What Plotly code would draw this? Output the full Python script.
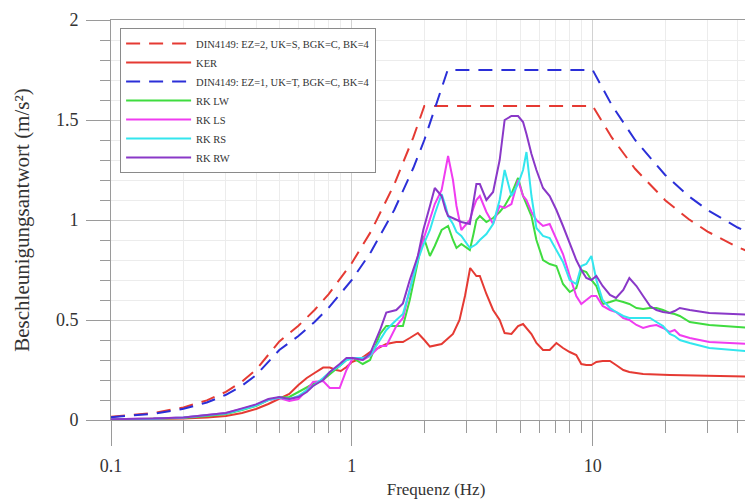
import plotly.graph_objects as go

# ---------------- data ----------------
din_ez2_f = [0.1, 0.15, 0.2, 0.25, 0.3, 0.35, 0.4, 0.5, 0.6, 0.7, 0.8, 1.0, 1.2, 1.5, 1.8, 2.0,
             10, 12, 15, 20, 25, 30, 40, 50]
din_ez2_a = [0.016, 0.035, 0.063, 0.098, 0.141, 0.192, 0.251, 0.393, 0.471, 0.55, 0.628, 0.785,
             0.942, 1.178, 1.413, 1.57, 1.57, 1.413, 1.256, 1.099, 1.005, 0.942, 0.864, 0.817]

din_ez1_f = [0.1, 0.15, 0.2, 0.25, 0.3, 0.35, 0.4, 0.5, 0.6, 0.7, 0.8, 1.0, 1.2, 1.5, 1.8, 2.0,
             2.5, 10, 12, 15, 20, 25, 30, 40, 50]
din_ez1_a = [0.014, 0.0315, 0.056, 0.0875, 0.126, 0.1715, 0.224, 0.35, 0.42, 0.49, 0.56, 0.7,
             0.84, 1.05, 1.26, 1.4, 1.75, 1.75, 1.575, 1.4, 1.225, 1.12, 1.05, 0.9625, 0.91]

ker_f = [0.1, 0.15, 0.2, 0.25, 0.3, 0.35, 0.4, 0.45, 0.5, 0.55, 0.6, 0.65, 0.7, 0.76, 0.81, 0.86,
         0.9, 0.95, 1.0, 1.1, 1.19, 1.31, 1.39, 1.53, 1.63, 1.74, 1.88, 2.0, 2.11, 2.36, 2.63,
         2.8, 2.95, 3.1, 3.29, 3.4, 3.62, 3.86, 4.11, 4.31, 4.6, 4.9, 5.14, 5.57, 5.84, 6.22,
         6.63, 7.07, 7.53, 8.03, 8.55, 8.97, 9.41, 9.88, 10.36, 11.0, 11.8, 12.5, 13.4, 14.2,
         16.2, 20.9, 30.5, 46.1, 50]
ker_a = [0.003, 0.004, 0.007, 0.012, 0.02, 0.035, 0.055, 0.08, 0.105, 0.13, 0.175, 0.21, 0.235,
         0.262, 0.262, 0.25, 0.245, 0.265, 0.29, 0.31, 0.34, 0.365, 0.38, 0.39, 0.39, 0.41, 0.435,
         0.4, 0.367, 0.38, 0.43, 0.5, 0.62, 0.76, 0.72, 0.72, 0.63, 0.55, 0.5, 0.435, 0.43, 0.47,
         0.48, 0.43, 0.385, 0.35, 0.35, 0.385, 0.36, 0.34, 0.325, 0.28, 0.275, 0.275, 0.29, 0.295,
         0.295, 0.275, 0.25, 0.24, 0.23, 0.225, 0.22, 0.217, 0.216]

rk_f = [0.1, 0.15, 0.2, 0.25, 0.3, 0.35, 0.4, 0.45, 0.5, 0.55, 0.6, 0.65, 0.69, 0.76, 0.81, 0.89,
        0.95, 1.01, 1.11, 1.19, 1.31, 1.39, 1.53, 1.63, 1.74, 1.88, 1.98, 2.11, 2.21, 2.36, 2.45,
        2.51, 2.63, 2.72, 2.85, 3.09, 3.2, 3.29, 3.4, 3.62, 3.86, 4.11, 4.31, 4.6, 4.9, 5.14,
        5.31, 5.57, 5.84, 6.22, 6.63, 7.07, 7.53, 8.03, 8.55, 8.97, 9.41, 9.88, 10.36, 11.0, 11.8,
        12.5, 13.4, 14.2, 15.2, 16.2, 17.3, 18.4, 19.6, 20.9, 21.9, 23.0, 25.3, 30.5, 46.1, 50]

rk_lw = [0.003, 0.005, 0.01, 0.02, 0.03, 0.05, 0.07, 0.1, 0.112, 0.115, 0.14, 0.165, 0.18, 0.2,
         0.23, 0.27, 0.3, 0.31, 0.28, 0.3, 0.43, 0.47, 0.47, 0.47, 0.6, 0.8, 0.92, 0.82, 0.87,
         0.95, 0.96, 0.97, 0.9, 0.86, 0.88, 0.85, 0.93, 1.0, 1.02, 0.99, 1.01, 1.04, 1.07, 1.13,
         1.21, 1.12, 1.08, 1.02, 0.9, 0.8, 0.78, 0.77, 0.68, 0.64, 0.66, 0.75, 0.74, 0.7, 0.67,
         0.58, 0.59, 0.6, 0.59, 0.58, 0.56, 0.555, 0.56, 0.56, 0.55, 0.535, 0.53, 0.52, 0.49,
         0.475, 0.46, 0.458]

rk_ls = [0.004, 0.007, 0.013, 0.025, 0.035, 0.055, 0.075, 0.1, 0.11, 0.095, 0.105, 0.15, 0.19,
         0.195, 0.16, 0.16, 0.25, 0.31, 0.3, 0.32, 0.37, 0.37, 0.47, 0.51, 0.65, 0.82, 0.9, 1.0,
         1.08, 1.15, 1.25, 1.32, 1.2, 1.07, 0.95, 1.0, 1.06, 1.1, 1.12, 1.04, 0.98, 1.07, 1.06,
         1.08, 1.2, 1.12, 1.1, 1.04, 1.0, 0.97, 0.98, 0.9, 0.83, 0.72, 0.62, 0.58, 0.6, 0.62,
         0.62, 0.57, 0.55, 0.54, 0.51, 0.5, 0.475, 0.46, 0.47, 0.475, 0.46, 0.44, 0.45, 0.425,
         0.41, 0.39, 0.38, 0.378]

rk_rs = [0.004, 0.006, 0.012, 0.022, 0.032, 0.052, 0.072, 0.1, 0.112, 0.105, 0.12, 0.15, 0.17,
         0.21, 0.24, 0.27, 0.3, 0.31, 0.31, 0.32, 0.4, 0.45, 0.5, 0.53, 0.65, 0.8, 0.875, 0.95,
         1.03, 1.13, 1.07, 1.02, 0.98, 0.94, 0.92, 0.86, 0.87, 0.88, 0.9, 0.93, 0.98, 1.1, 1.25,
         1.12, 1.18, 1.25, 1.34, 1.12, 0.96, 0.92, 0.91, 0.85, 0.79, 0.7, 0.68, 0.77, 0.78, 0.82,
         0.7, 0.6, 0.56, 0.54, 0.52, 0.51, 0.51, 0.51, 0.51, 0.49, 0.47, 0.43, 0.42, 0.4, 0.385,
         0.36, 0.34, 0.338]

rk_rw = [0.004, 0.007, 0.013, 0.025, 0.035, 0.058, 0.078, 0.105, 0.115, 0.105, 0.115, 0.14, 0.17,
         0.2, 0.24, 0.28, 0.31, 0.31, 0.3, 0.33, 0.45, 0.537, 0.55, 0.583, 0.7, 0.82, 0.95, 1.07,
         1.16, 1.12, 1.05, 1.02, 1.01, 1.0, 0.99, 0.98, 1.1, 1.18, 1.18, 1.1, 1.14, 1.3, 1.5,
         1.52, 1.52, 1.49, 1.43, 1.33, 1.25, 1.16, 1.12, 1.05, 0.97, 0.88, 0.8, 0.75, 0.71, 0.7,
         0.72, 0.67, 0.625, 0.61, 0.65, 0.71, 0.67, 0.62, 0.57, 0.55, 0.54, 0.535, 0.545, 0.56,
         0.55, 0.535, 0.525, 0.524]

names = ["DIN4149: EZ=2, UK=S, BGK=C, BK=4", "KER", "DIN4149: EZ=1, UK=T, BGK=C, BK=4",
         "RK LW", "RK LS", "RK RS", "RK RW"]
colors = ["#e53a33", "#e53a33", "#2b2fd8", "#3fdc3f", "#f03cf0", "#33e6ee", "#8a38c8"]
xs = [din_ez2_f, ker_f, din_ez1_f, rk_f, rk_f, rk_f, rk_f]
ys = [din_ez2_a, ker_a, din_ez1_a, rk_lw, rk_ls, rk_rs, rk_rw]
dashes = ["14px,9px", "solid", "14px,9px", "solid", "solid", "solid", "solid"]

# ---------------- figure ----------------
fig = go.Figure()
for n, c, x, y, d in zip(names, colors, xs, ys, dashes):
    fig.add_trace(go.Scatter(x=x, y=y, mode="lines", name=n,
                             line=dict(color=c, width=2, dash=d)))

FONT = "Liberation Serif"
minor_x = [0.2, 0.3, 0.4, 0.5, 0.6, 0.7, 0.8, 0.9, 2, 3, 4, 5, 6, 7, 8, 9, 20, 30, 40]

fig.update_layout(
    width=753, height=502,
    margin=dict(l=103, r=0, t=12, b=90, autoexpand=False),
    paper_bgcolor="white", plot_bgcolor="white",
    font=dict(family=FONT, color="#333333"),
    showlegend=True,
    legend=dict(x=0.014, y=0.98, xanchor="left", yanchor="top",
                bgcolor="white", bordercolor="#8a8a8a", borderwidth=1,
                font=dict(family=FONT, size=10.5, color="#333333"),
                itemwidth=65, tracegroupgap=0),
    xaxis=dict(
        type="log", range=[-1, 1.69897], automargin=False,
        tickmode="array", tickvals=[0.1, 1, 10], ticktext=["0.1", "1", "10"],
        ticks="outside", ticklen=25, tickcolor="#9a9a9a", tickwidth=1,
        ticklabelstandoff=4,
        showline=True, linecolor="#9a9a9a", linewidth=1, mirror=True,
        showgrid=True, gridcolor="#d2d2d2", gridwidth=1,
        minor=dict(tickmode="array", tickvals=minor_x, ticks="outside", ticklen=12,
                   tickcolor="#9a9a9a", showgrid=True, gridcolor="#ececec"),
        tickfont=dict(family=FONT, size=18, color="#333333"),
        title=dict(text="Frequenz (Hz)", font=dict(family=FONT, size=17, color="#333333"),
                   standoff=8),
        zeroline=False,
    ),
    yaxis=dict(
        range=[0, 2], automargin=False,
        tickmode="array", tickvals=[0, 0.5, 1, 1.5, 2], ticktext=["0", "0.5", "1", "1.5", "2"],
        ticks="outside", ticklen=24, tickcolor="#9a9a9a", tickwidth=1,
        ticklabelstandoff=4,
        showline=True, linecolor="#9a9a9a", linewidth=1,
        showgrid=True, gridcolor="#d2d2d2", gridwidth=1,
        minor=dict(dtick=0.1, ticks="outside", ticklen=10, tickcolor="#9a9a9a",
                   showgrid=True, gridcolor="#ececec"),
        tickfont=dict(family=FONT, size=18, color="#333333"),
        title=dict(text="Beschleunigungsantwort (m/s²)",
                   font=dict(family=FONT, size=21, color="#333333"), standoff=20),
        zeroline=False,
    ),
)

fig.write_html("out.html")
